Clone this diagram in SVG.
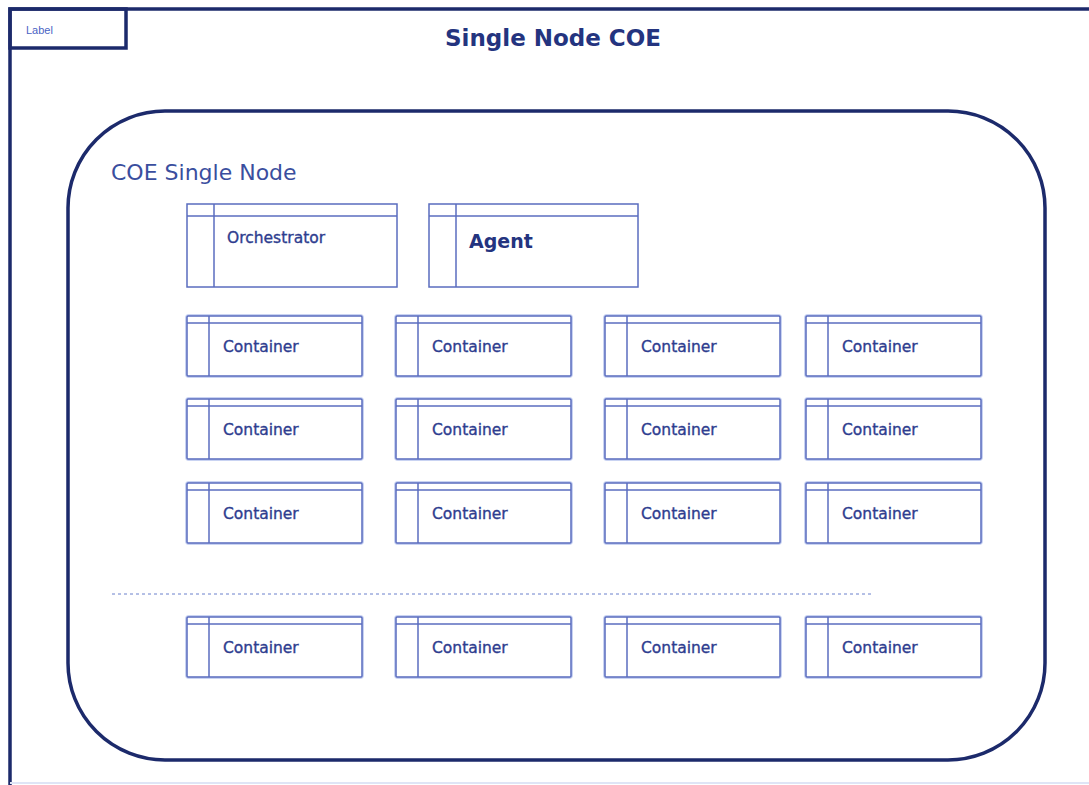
<svg xmlns="http://www.w3.org/2000/svg" width="1089" height="785" viewBox="0 0 1089 785">
<defs>
<style>
.frame{fill:none;stroke:#1c2a6b;stroke-width:3.5}
.halo{fill:none;stroke:#c9d3f2;stroke-width:4}
.box{fill:#ffffff;stroke:#5a6cbf;stroke-width:1.5}
.ln{stroke:#5a6cbf;stroke-width:1.5}
.ct{font-family:"DejaVu Sans",sans-serif;font-size:15.5px;fill:#2e3d8f;stroke:#2e3d8f;stroke-width:0.35}
.title{font-family:"DejaVu Sans",sans-serif;font-weight:bold;font-size:23px;fill:#24347f}
</style>
<g id="cbox">
<rect class="halo" x="0" y="0" width="175" height="60" rx="2"/>
<rect class="box" x="0" y="0" width="175" height="60" rx="1"/>
<line class="ln" x1="0" y1="7" x2="175" y2="7"/>
<line class="ln" x1="22" y1="0" x2="22" y2="60"/>
<text class="ct" x="36" y="36">Container</text>
</g>
</defs>
<rect width="1089" height="785" fill="#ffffff"/>
<g id="frame">
<path d="M1089,9 H10 V785" class="frame"/>
<line x1="10" y1="783" x2="1089" y2="783" stroke="#dfe5f6" stroke-width="2"/>
</g>
<g id="label">
<rect x="10" y="9" width="116" height="39" class="frame"/>
<text x="26" y="34" font-family="Liberation Sans, sans-serif" font-size="11" fill="#4a63c4">Label</text>
</g>
<text id="title" class="title" x="553" y="46" text-anchor="middle">Single Node COE</text>
<g id="coe-node">
<rect x="68" y="111" width="977" height="649" rx="97" ry="97" class="frame"/>
<text x="111" y="180" font-family="DejaVu Sans, sans-serif" font-size="22" fill="#3a4e9e">COE Single Node</text>
</g>
<g id="orchestrator">
<rect class="box" x="187" y="204" width="210" height="83"/>
<line class="ln" x1="187" y1="216" x2="397" y2="216"/>
<line class="ln" x1="214" y1="204" x2="214" y2="287"/>
<text class="ct" x="227" y="243" font-size="15">Orchestrator</text>
</g>
<g id="agent">
<rect class="box" x="429" y="204" width="209" height="83"/>
<line class="ln" x1="429" y1="216" x2="638" y2="216"/>
<line class="ln" x1="456" y1="204" x2="456" y2="287"/>
<text x="469" y="248" font-family="DejaVu Sans, sans-serif" font-weight="bold" font-size="19" fill="#24347f">Agent</text>
</g>
<g id="containers">
<use href="#cbox" x="187" y="316"/>
<use href="#cbox" x="396" y="316"/>
<use href="#cbox" x="605" y="316"/>
<use href="#cbox" x="806" y="316"/>
<use href="#cbox" x="187" y="399"/>
<use href="#cbox" x="396" y="399"/>
<use href="#cbox" x="605" y="399"/>
<use href="#cbox" x="806" y="399"/>
<use href="#cbox" x="187" y="483"/>
<use href="#cbox" x="396" y="483"/>
<use href="#cbox" x="605" y="483"/>
<use href="#cbox" x="806" y="483"/>
<use href="#cbox" x="187" y="617"/>
<use href="#cbox" x="396" y="617"/>
<use href="#cbox" x="605" y="617"/>
<use href="#cbox" x="806" y="617"/>
</g>
<g id="connectors">
<line x1="112" y1="594" x2="872" y2="594" stroke="#6a80cc" stroke-width="1" stroke-dasharray="3,3"/>
</g>
</svg>
